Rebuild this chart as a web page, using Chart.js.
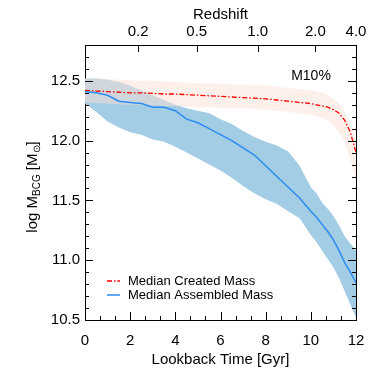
<!DOCTYPE html>
<html>
<head>
<meta charset="utf-8">
<script src="https://cdn.jsdelivr.net/npm/chart.js@4.4.1/dist/chart.umd.min.js"></script>
<style>
  html, body { margin: 0; padding: 0; background: #fff; }
</style>
</head>
<body>
<canvas id="bcg" width="382" height="382"></canvas>
<script>
// lookback time grid [Gyr]
const lookback = [0, 0.5, 1, 1.5, 2, 2.5, 3, 3.5, 4, 4.5, 5, 5.5, 6, 6.5, 7, 7.5, 8, 8.5, 9, 9.5, 10,
                  10.25, 10.5, 10.75, 11, 11.25, 11.5, 11.75, 12];

// median assembled mass + 1 sigma band
const assembledMed = [12.41, 12.40, 12.38, 12.33, 12.32, 12.31, 12.28, 12.28, 12.25, 12.18, 12.15, 12.10, 12.05, 12.00, 11.94, 11.88, 11.79, 11.70, 11.61, 11.52, 11.41,
                      11.36, 11.30, 11.24, 11.17, 11.08, 10.98, 10.90, 10.81];
const assembledHi = [12.52, 12.52, 12.51, 12.49, 12.46, 12.42, 12.38, 12.34, 12.30, 12.27, 12.25, 12.23, 12.18, 12.14, 12.08, 12.03, 11.99, 11.96, 11.91, 11.79, 11.61,
                     11.56, 11.48, 11.43, 11.37, 11.29, 11.20, 11.14, 11.08];
const assembledLo = [12.31, 12.24, 12.16, 12.11, 12.07, 12.05, 12.01, 11.99, 11.95, 11.90, 11.85, 11.80, 11.75, 11.69, 11.62, 11.56, 11.51, 11.47, 11.41, 11.35, 11.21,
                     11.15, 11.08, 11.01, 10.94, 10.85, 10.74, 10.63, 10.52];

// median created mass + band
const createdMed = [12.42, 12.415, 12.41, 12.405, 12.40, 12.40, 12.395, 12.39, 12.39, 12.385, 12.38, 12.375, 12.37, 12.365, 12.36, 12.355, 12.35, 12.34, 12.33, 12.32, 12.31,
                    12.30, 12.29, 12.28, 12.26, 12.23, 12.17, 12.07, 11.90];
const createdHi = [12.52, 12.52, 12.515, 12.51, 12.505, 12.50, 12.50, 12.495, 12.49, 12.485, 12.48, 12.48, 12.475, 12.47, 12.47, 12.465, 12.46, 12.45, 12.44, 12.43, 12.42,
                   12.41, 12.40, 12.38, 12.35, 12.31, 12.24, 12.15, 12.00];
const createdLo = [12.32, 12.315, 12.31, 12.305, 12.30, 12.30, 12.295, 12.29, 12.29, 12.285, 12.28, 12.28, 12.275, 12.27, 12.27, 12.265, 12.26, 12.25, 12.24, 12.23, 12.22,
                   12.205, 12.19, 12.17, 12.13, 12.07, 11.98, 11.85, 11.66];

// axis ticks
const timeTicks = [0, 2, 4, 6, 8, 10, 12];
const massTicks = [10.5, 11.0, 11.5, 12.0, 12.5];
const zTicks = [0.2, 0.5, 1.0, 2.0, 4.0];
const zLookback = [2.35, 4.95, 7.65, 10.2, 12.0];

const pts = (ys) => ys.map((y, i) => ({ x: lookback[i], y: y }));

Chart.defaults.font.family = "'Liberation Sans', Arial, sans-serif";
Chart.defaults.color = '#000';

const FONT = { size: 15 };

// ticks pointing inward on all four sides, plus y title, legend and label
const decorations = {
  id: 'decorations',
  afterDraw(chart) {
    const { ctx, chartArea: a, scales } = chart;
    ctx.save();
    ctx.strokeStyle = '#000';
    ctx.lineWidth = 1;
    ctx.beginPath();
    // y ticks, left and right
    for (let k = 0; k <= 23; k++) {
      const v = 10.5 + k * 0.1;
      const p = Math.round(scales.y.getPixelForValue(v)) + 0.5;
      const major = k % 5 === 0;
      const len = major ? 8 : 4;
      ctx.moveTo(a.left, p); ctx.lineTo(a.left + len, p);
      ctx.moveTo(a.right, p); ctx.lineTo(a.right - len, p);
    }
    // bottom ticks
    for (let k = 0; k <= 18; k++) {
      const v = k * 2 / 3;
      const p = Math.round(scales.x.getPixelForValue(v)) + 0.5;
      const len = k % 3 === 0 ? 8 : 4;
      ctx.moveTo(p, a.bottom); ctx.lineTo(p, a.bottom - len);
    }
    // top ticks (redshift)
    zLookback.forEach(v => {
      const p = Math.round(scales.x2.getPixelForValue(v)) + 0.5;
      ctx.moveTo(p, a.top); ctx.lineTo(p, a.top + 7);
    });
    ctx.stroke();

    // y axis title with subscripts
    ctx.fillStyle = '#000';
    ctx.translate(33, 187);
    ctx.rotate(-Math.PI / 2);
    const big = "15px 'Liberation Sans', Arial, sans-serif";
    const small = "10px 'Liberation Sans', Arial, sans-serif";
    const parts = [
      ['log M', big, 0], ['BCG', small, 4], [' [M', big, 0], ['\u2299', small, 4], [']', big, 0]
    ];
    let total = 0;
    parts.forEach(([t, f]) => { ctx.font = f; total += ctx.measureText(t).width; });
    let x = -total / 2;
    ctx.textBaseline = 'middle';
    ctx.textAlign = 'left';
    parts.forEach(([t, f, dy]) => {
      ctx.font = f;
      ctx.fillText(t, x, dy);
      x += ctx.measureText(t).width;
    });
    ctx.setTransform(1, 0, 0, 1, 0, 0);

    // panel label
    ctx.font = "14px 'Liberation Sans', Arial, sans-serif";
    ctx.textAlign = 'center';
    ctx.fillText('M10%', 311, 76);

    // legend
    const rows = [
      { ds: chart.data.datasets[4], y: 281 },
      { ds: chart.data.datasets[5], y: 295 }
    ];
    ctx.font = "13px 'Liberation Sans', Arial, sans-serif";
    ctx.textAlign = 'left';
    rows.forEach(r => {
      ctx.strokeStyle = r.ds.borderColor;
      ctx.lineWidth = r.ds.borderWidth;
      ctx.setLineDash(r.ds.borderDash || []);
      ctx.beginPath();
      ctx.moveTo(107, r.y); ctx.lineTo(120, r.y);
      ctx.stroke();
      ctx.fillText(r.ds.label, 128, r.y);
    });
    ctx.restore();
  }
};

new Chart(document.getElementById('bcg'), {
  type: 'line',
  data: {
    datasets: [
      { label: 'assembled hi', data: pts(assembledHi), fill: '+1', backgroundColor: '#a3cde4',
        borderWidth: 0, pointRadius: 0, order: 5 },
      { label: 'assembled lo', data: pts(assembledLo), fill: false,
        borderWidth: 0, pointRadius: 0, order: 4 },
      { label: 'created hi', data: pts(createdHi), fill: '+1', backgroundColor: 'rgba(251, 224, 212, 0.5)',
        borderWidth: 0, pointRadius: 0, order: 3 },
      { label: 'created lo', data: pts(createdLo), fill: false,
        borderWidth: 0, pointRadius: 0, order: 2 },
      { label: 'Median Created Mass', data: pts(createdMed), fill: false, borderColor: '#ff0000',
        borderWidth: 1.3, borderDash: [5, 2, 1.5, 2], pointRadius: 0, order: 1 },
      { label: 'Median Assembled Mass', data: pts(assembledMed), fill: false, borderColor: '#2b8cf2',
        borderWidth: 1.5, pointRadius: 0, order: 0 }
    ]
  },
  options: {
    responsive: false,
    animation: false,
    devicePixelRatio: 1,
    layout: { padding: 0 },
    plugins: { legend: { display: false }, tooltip: { enabled: false } },
    scales: {
      x: {
        type: 'linear', position: 'bottom', min: 0, max: 12,
        afterBuildTicks: s => { s.ticks = timeTicks.map(v => ({ value: v })); },
        ticks: { font: FONT, padding: 12, maxRotation: 0, autoSkip: false },
        grid: { display: false, drawTicks: false },
        border: { display: true, color: '#000', width: 1 },
        title: { display: true, text: 'Lookback Time [Gyr]', font: FONT, padding: { top: 0, bottom: 13 } },
        afterFit: s => { s.height = 62; }
      },
      x2: {
        type: 'linear', axis: 'x', position: 'top', min: 0, max: 12,
        afterBuildTicks: s => { s.ticks = zLookback.map(v => ({ value: v })); },
        ticks: { font: FONT, padding: 4, maxRotation: 0, autoSkip: false,
                 callback: (v, i) => zTicks[i].toFixed(1) },
        grid: { display: false, drawTicks: false },
        border: { display: true, color: '#000', width: 1 },
        title: { display: true, text: 'Redshift', font: FONT, padding: { top: 6, bottom: 0 } },
        afterFit: s => { s.height = 45; }
      },
      y: {
        type: 'linear', position: 'left', min: 10.5, max: 12.8,
        afterBuildTicks: s => { s.ticks = massTicks.map(v => ({ value: v })); },
        ticks: { font: FONT, padding: 5, callback: v => v.toFixed(1) },
        grid: { display: false, drawTicks: false },
        border: { display: true, color: '#000', width: 1 },
        afterFit: s => { s.width = 85; }
      },
      y2: {
        type: 'linear', axis: 'y', position: 'right', min: 10.5, max: 12.8,
        ticks: { display: false },
        grid: { display: false, drawTicks: false },
        border: { display: true, color: '#000', width: 1 },
        afterFit: s => { s.width = 26; }
      }
    }
  },
  plugins: [decorations]
});
</script>
</body>
</html>
